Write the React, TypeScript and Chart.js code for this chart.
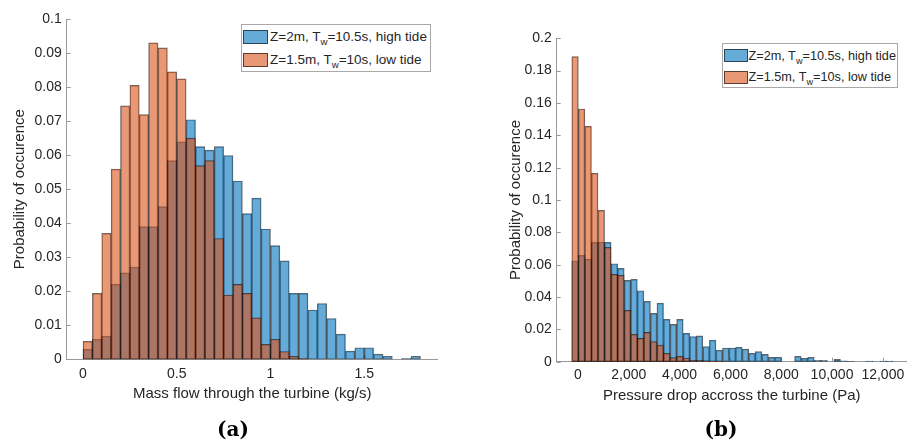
import React, { useEffect, useRef } from "react";
import { Chart, registerables } from "chart.js";

Chart.register(...registerables);

// ---------- DATA ----------
// (a) Mass flow histogram, bins of 0.05 kg/s starting at 0
const MASS_BIN_START = 0;
const MASS_BIN_WIDTH = 0.05;
const MASS_HIGH_TIDE = [
  0.0029, 0.0059, 0.0068, 0.022, 0.0254, 0.0271, 0.039, 0.039, 0.0449, 0.0584,
  0.0639, 0.0704, 0.0625, 0.0615, 0.0625, 0.0599, 0.0524, 0.0428, 0.0474, 0.0383,
  0.0334, 0.0289, 0.0194, 0.0194, 0.0145, 0.0164, 0.012, 0.0074, 0.0024, 0.0034,
  0.0034, 0.0015, 0.0009, 0, 0.0003, 0.0009,
];
const MASS_LOW_TIDE = [
  0.0053, 0.0194, 0.037, 0.0559, 0.0745, 0.0805, 0.0719, 0.093, 0.0915, 0.0845,
  0.0824, 0.065, 0.0569, 0.0584, 0.0355, 0.0189, 0.022, 0.0194, 0.0122, 0.0044,
  0.0059, 0.0023, 0.0009, 0.0003, 0, 0, 0, 0, 0, 0,
  0, 0, 0, 0, 0, 0,
];
const MASS_X_TICKS = [0, 0.5, 1, 1.5];
const MASS_Y_TICKS = [0, 0.01, 0.02, 0.03, 0.04, 0.05, 0.06, 0.07, 0.08, 0.09, 0.1];

// (b) Pressure drop histogram
const PRESS_BIN_START = -245;
const PRESS_BIN_WIDTH = 258;
const PRESS_HIGH_TIDE = [
  0.0623, 0.0658, 0.0635, 0.0738, 0.0738, 0.0738, 0.0606, 0.0577, 0.0503, 0.0509,
  0.0439, 0.0373, 0.0299, 0.0363, 0.0262, 0.0231, 0.0262, 0.0175, 0.0156, 0.016,
  0.0093, 0.0134, 0.0071, 0.0085, 0.0085, 0.0089, 0.0078, 0.0052, 0.0062, 0.0045,
  0.0027, 0.0027, 0, 0, 0.0033, 0.0021, 0.0027, 0.0008, 0.0008, 0,
  0.0014, 0.0006, 0.0002, 0, 0, 0.0004, 0, 0.0004, 0.0004, 0,
];
const PRESS_LOW_TIDE = [
  0.1887, 0.1563, 0.1456, 0.1165, 0.0936, 0.0707, 0.054, 0.0534, 0.0318, 0.0169,
  0.0144, 0.0181, 0.0124, 0.0103, 0.0052, 0.0025, 0.0033, 0.0023, 0.0008, 0.0008,
  0.0006, 0.0004, 0.0002, 0, 0, 0, 0, 0, 0, 0,
  0, 0, 0, 0, 0, 0, 0, 0, 0, 0,
  0, 0, 0, 0, 0, 0, 0, 0, 0, 0,
];
const PRESS_X_TICKS = [0, 2000, 4000, 6000, 8000, 10000, 12000];
const PRESS_Y_TICKS = [0, 0.02, 0.04, 0.06, 0.08, 0.1, 0.12, 0.14, 0.16, 0.18, 0.2];

const SERIES_HIGH = "Z=2m, T_w=10.5s, high tide";
const SERIES_LOW = "Z=1.5m, T_w=10s, low tide";

// ---------- STYLE ----------
const BLUE = "rgba(0,114,189,0.6)";
const ORANGE = "rgba(217,83,25,0.6)";
const EDGE = "rgba(0,0,0,0.6)";
const AXIS = "#9a9a9a";
const TEXT = "#262626";
const FONT = "'Liberation Sans', Arial, Helvetica, sans-serif";

type Panel = {
  w: number;
  h: number;
  padding: { left: number; right: number; top: number; bottom: number };
  yAxisWidth: number;
  xAxisHeight: number;
  xMin: number;
  xMax: number;
  yMax: number;
  xTicks: number[];
  yTicks: number[];
  xFmt: (v: number) => string;
  yTitlePad: number;
  xTitlePadBottom: number;
  xTickPad: number;
  yTickPad: number;
  binStart: number;
  binWidth: number;
  high: number[];
  low: number[];
  xTitle: string;
};

const inwardTicks = {
  id: "inwardTicks",
  beforeDatasetsDraw(chart: any) {
    const { ctx, chartArea, scales } = chart;
    ctx.save();
    ctx.strokeStyle = AXIS;
    ctx.lineWidth = 1;
    scales.x.ticks.forEach((t: any) => {
      const px = Math.round(scales.x.getPixelForValue(t.value)) + 0.5;
      ctx.beginPath();
      ctx.moveTo(px, chartArea.bottom);
      ctx.lineTo(px, chartArea.bottom - 4);
      ctx.stroke();
    });
    scales.y.ticks.forEach((t: any) => {
      const py = Math.round(scales.y.getPixelForValue(t.value)) + 0.5;
      ctx.beginPath();
      ctx.moveTo(chartArea.left, py);
      ctx.lineTo(chartArea.left + 4, py);
      ctx.stroke();
    });
    ctx.restore();
  },
};

function HistPanel({ p, left }: { p: Panel; left: number }) {
  const ref = useRef<HTMLCanvasElement | null>(null);
  useEffect(() => {
    if (!ref.current) return;
    const toPts = (arr: number[]) =>
      arr.map((y, i) => ({ x: p.binStart + p.binWidth * (i + 0.5), y }));
    const barCommon = {
      borderColor: EDGE,
      borderWidth: 0.8,
      borderSkipped: false,
      grouped: false,
      barPercentage: 1,
      categoryPercentage: 1,
    };
    const chart = new Chart(ref.current, {
      type: "bar",
      data: {
        datasets: [
          { label: SERIES_HIGH, data: toPts(p.high), backgroundColor: BLUE, order: 1, ...barCommon } as any,
          { label: SERIES_LOW, data: toPts(p.low), backgroundColor: ORANGE, order: 0, ...barCommon } as any,
        ],
      },
      options: {
        animation: false,
        responsive: false,
        events: [],
        layout: { padding: p.padding, autoPadding: false } as any,
        plugins: { legend: { display: false }, tooltip: { enabled: false }, title: { display: false } },
        scales: {
          x: {
            type: "linear",
            min: p.xMin,
            max: p.xMax,
            offset: false,
            grid: { display: false, offset: false, drawTicks: false },
            border: { display: true, color: AXIS, width: 1 },
            afterBuildTicks: (s: any) => {
              s.ticks = p.xTicks.map((v) => ({ value: v }));
            },
            afterFit: (s: any) => {
              s.height = p.xAxisHeight;
            },
            ticks: {
              autoSkip: false,
              maxRotation: 0,
              padding: p.xTickPad,
              color: TEXT,
              font: { family: FONT, size: 14 },
              callback: (v: any) => p.xFmt(Number(v)),
            },
            title: {
              display: true,
              text: p.xTitle,
              color: TEXT,
              font: { family: FONT, size: 15 },
              padding: { top: 0, bottom: p.xTitlePadBottom },
            },
          } as any,
          y: {
            type: "linear",
            min: 0,
            max: p.yMax,
            grid: { display: false, drawTicks: false },
            border: { display: true, color: AXIS, width: 1 },
            afterBuildTicks: (s: any) => {
              s.ticks = p.yTicks.map((v) => ({ value: v }));
            },
            afterFit: (s: any) => {
              s.width = p.yAxisWidth;
            },
            ticks: {
              padding: p.yTickPad,
              color: TEXT,
              font: { family: FONT, size: 14 },
              callback: (v: any) => String(Number(Number(v).toFixed(4))),
            },
            title: {
              display: true,
              text: "Probability of occurence",
              color: TEXT,
              font: { family: FONT, size: 15 },
              padding: { top: p.yTitlePad, bottom: 0 },
            },
          } as any,
        },
      },
      plugins: [inwardTicks],
    } as any);
    return () => chart.destroy();
  }, []);
  return (
    <canvas
      ref={ref}
      width={p.w}
      height={p.h}
      style={{ position: "absolute", left, top: 0, width: p.w, height: p.h }}
    />
  );
}

function LegendText({ text }: { text: string }) {
  const [a, b] = text.split("T_w");
  return (
    <span>
      {a}T<span style={{ fontSize: "0.72em", position: "relative", top: "0.45em" }}>w</span>
      {b}
    </span>
  );
}

type LegendCfg = {
  left: number;
  top: number;
  width: number;
  height: number;
  fontSize: number;
  patchLeft: number;
  patchW: number;
  patchH: number;
  rowCenters: number[];
  textLeft: number;
};

function HtmlLegend({ c }: { c: LegendCfg }) {
  const rows = [
    { color: BLUE, text: SERIES_HIGH },
    { color: ORANGE, text: SERIES_LOW },
  ];
  return (
    <>
      <div
        style={{
          position: "absolute",
          left: c.left,
          top: c.top,
          width: c.width,
          height: c.height,
          boxSizing: "border-box",
          border: "1px solid #a8a8a8",
          background: "#fff",
        }}
      />
      {rows.map((r, i) => (
        <React.Fragment key={i}>
          <div
            style={{
              position: "absolute",
              left: c.patchLeft,
              top: c.rowCenters[i] - c.patchH / 2,
              width: c.patchW,
              height: c.patchH,
              boxSizing: "border-box",
              background: r.color,
              border: "1px solid " + EDGE,
            }}
          />
          <div
            style={{
              position: "absolute",
              left: c.textLeft,
              top: c.rowCenters[i] - 10,
              height: 20,
              lineHeight: "20px",
              fontFamily: FONT,
              fontSize: c.fontSize,
              color: TEXT,
              whiteSpace: "nowrap",
            }}
          >
            <LegendText text={r.text} />
          </div>
        </React.Fragment>
      ))}
    </>
  );
}

const LEFT_PANEL: Panel = {
  w: 450,
  h: 441,
  padding: { left: 0, right: 12.3, top: 19, bottom: 0 },
  yAxisWidth: 66.7,
  xAxisHeight: 81.7,
  xMin: -0.087,
  xMax: 1.892,
  yMax: 0.1,
  xTicks: MASS_X_TICKS,
  yTicks: MASS_Y_TICKS,
  xFmt: (v) => String(v),
  yTitlePad: 11,
  xTitlePadBottom: 38,
  xTickPad: 6,
  yTickPad: 5,
  binStart: MASS_BIN_START,
  binWidth: MASS_BIN_WIDTH,
  high: MASS_HIGH_TIDE,
  low: MASS_LOW_TIDE,
  xTitle: "Mass flow through the turbine (kg/s)",
};

const RIGHT_PANEL: Panel = {
  w: 431,
  h: 441,
  padding: { left: 0, right: 4.3, top: 38.3, bottom: 0 },
  yAxisWidth: 76.7,
  xAxisHeight: 79.3,
  xMin: -839,
  xMax: 12941,
  yMax: 0.2,
  xTicks: PRESS_X_TICKS,
  yTicks: PRESS_Y_TICKS,
  xFmt: (v) => v.toLocaleString("en-US"),
  yTitlePad: 27,
  xTitlePadBottom: 36.5,
  xTickPad: 5,
  yTickPad: 5,
  binStart: PRESS_BIN_START,
  binWidth: PRESS_BIN_WIDTH,
  high: PRESS_HIGH_TIDE,
  low: PRESS_LOW_TIDE,
  xTitle: "Pressure drop accross the turbine (Pa)",
};

const captionStyle: React.CSSProperties = {
  position: "absolute",
  top: 429,
  transform: "translate(-50%, -50%)",
  fontFamily: "'DejaVu Serif', 'Liberation Serif', serif",
  fontWeight: "bold",
  fontSize: 20,
  lineHeight: "24px",
  color: "#000",
};

export default function App() {
  return (
    <div
      style={{
        position: "absolute",
        left: 0,
        top: 0,
        width: 911,
        height: 441,
        background: "#fff",
        overflow: "hidden",
      }}
    >
      <HistPanel p={LEFT_PANEL} left={0} />
      <HistPanel p={RIGHT_PANEL} left={480} />
      <HtmlLegend
        c={{
          left: 240.7,
          top: 24.3,
          width: 190.3,
          height: 47.7,
          fontSize: 13.5,
          patchLeft: 243.3,
          patchW: 25,
          patchH: 14,
          rowCenters: [37, 59.7],
          textLeft: 270,
        }}
      />
      <HtmlLegend
        c={{
          left: 721.7,
          top: 43.3,
          width: 176.3,
          height: 45,
          fontSize: 12.7,
          patchLeft: 723.5,
          patchW: 24,
          patchH: 13.3,
          rowCenters: [55.7, 77.3],
          textLeft: 748.5,
        }}
      />
      <div style={{ ...captionStyle, left: 233 }}>(a)</div>
      <div style={{ ...captionStyle, left: 721 }}>(b)</div>
    </div>
  );
}
